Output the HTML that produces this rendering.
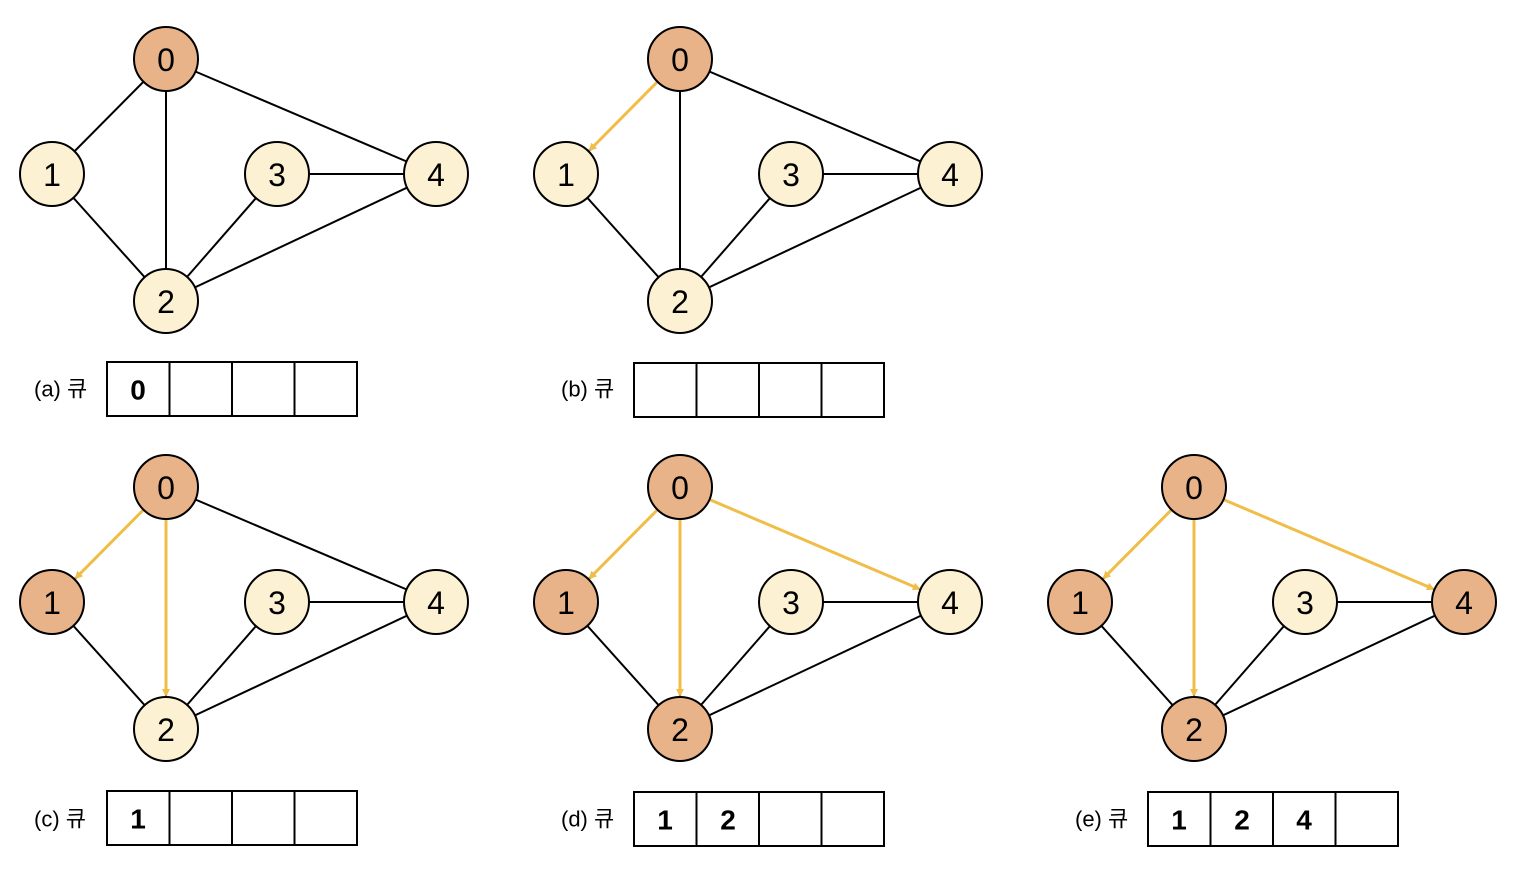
<!DOCTYPE html>
<html><head><meta charset="utf-8"><style>
html,body{margin:0;padding:0;background:#fff;}
svg{display:block;}
.n{font-family:"Liberation Sans","DejaVu Sans",sans-serif;font-size:32px;text-anchor:middle;dominant-baseline:central;fill:#000;}
.q{font-family:"Liberation Sans",sans-serif;font-size:28px;font-weight:bold;text-anchor:middle;dominant-baseline:central;}
.l{font-family:"Liberation Sans","Noto Sans CJK KR","NanumGothic",sans-serif;font-size:22px;dominant-baseline:central;}
</style></head><body>
<svg width="1534" height="880" viewBox="0 0 1534 880" xmlns="http://www.w3.org/2000/svg">
<defs>
<marker id="ah" markerWidth="8" markerHeight="8" refX="6" refY="4" orient="auto" markerUnits="userSpaceOnUse" viewBox="0 0 8 8"><path d="M0,0 L8,4 L0,8 z" fill="#F0BE48"/></marker>
<g id="edges" stroke="#000" stroke-width="2" fill="none">
<line x1="166" y1="59" x2="52" y2="174"/>
<line x1="166" y1="59" x2="166" y2="301"/>
<line x1="166" y1="59" x2="436" y2="174"/>
<line x1="52" y1="174" x2="166" y2="301"/>
<line x1="166" y1="301" x2="277" y2="174"/>
<line x1="166" y1="301" x2="436" y2="174"/>
<line x1="277" y1="174" x2="436" y2="174"/>
</g>
<line id="a01" x1="143.5" y1="81.7" x2="76" y2="149.8" stroke="#F0BE48" stroke-width="3" marker-end="url(#ah)"/>
<line id="a02" x1="166" y1="91" x2="166" y2="267" stroke="#F0BE48" stroke-width="3" marker-end="url(#ah)"/>
<line id="a04" x1="195.4" y1="71.5" x2="405" y2="160.8" stroke="#F0BE48" stroke-width="3" marker-end="url(#ah)"/>
</defs>

<!-- panel a -->
<g>
<use href="#edges"/>
<g stroke="#000" stroke-width="2">
<circle cx="166" cy="59" r="32" fill="#E9B38A"/><circle cx="52" cy="174" r="32" fill="#FCF1D3"/><circle cx="166" cy="301" r="32" fill="#FCF1D3"/><circle cx="277" cy="174" r="32" fill="#FCF1D3"/><circle cx="436" cy="174" r="32" fill="#FCF1D3"/>
</g>
<text class="n" x="166" y="60">0</text><text class="n" x="52" y="175">1</text><text class="n" x="166" y="302">2</text><text class="n" x="277" y="175">3</text><text class="n" x="436" y="175">4</text>
</g>

<!-- panel b -->
<g transform="translate(514,0)">
<use href="#edges"/><use href="#a01"/>
<g stroke="#000" stroke-width="2">
<circle cx="166" cy="59" r="32" fill="#E9B38A"/><circle cx="52" cy="174" r="32" fill="#FCF1D3"/><circle cx="166" cy="301" r="32" fill="#FCF1D3"/><circle cx="277" cy="174" r="32" fill="#FCF1D3"/><circle cx="436" cy="174" r="32" fill="#FCF1D3"/>
</g>
<text class="n" x="166" y="60">0</text><text class="n" x="52" y="175">1</text><text class="n" x="166" y="302">2</text><text class="n" x="277" y="175">3</text><text class="n" x="436" y="175">4</text>
</g>

<!-- panel c -->
<g transform="translate(0,428)">
<use href="#edges"/><use href="#a01"/><use href="#a02"/>
<g stroke="#000" stroke-width="2">
<circle cx="166" cy="59" r="32" fill="#E9B38A"/><circle cx="52" cy="174" r="32" fill="#E9B38A"/><circle cx="166" cy="301" r="32" fill="#FCF1D3"/><circle cx="277" cy="174" r="32" fill="#FCF1D3"/><circle cx="436" cy="174" r="32" fill="#FCF1D3"/>
</g>
<text class="n" x="166" y="60">0</text><text class="n" x="52" y="175">1</text><text class="n" x="166" y="302">2</text><text class="n" x="277" y="175">3</text><text class="n" x="436" y="175">4</text>
</g>

<!-- panel d -->
<g transform="translate(514,428)">
<use href="#edges"/><use href="#a01"/><use href="#a02"/><use href="#a04"/>
<g stroke="#000" stroke-width="2">
<circle cx="166" cy="59" r="32" fill="#E9B38A"/><circle cx="52" cy="174" r="32" fill="#E9B38A"/><circle cx="166" cy="301" r="32" fill="#E9B38A"/><circle cx="277" cy="174" r="32" fill="#FCF1D3"/><circle cx="436" cy="174" r="32" fill="#FCF1D3"/>
</g>
<text class="n" x="166" y="60">0</text><text class="n" x="52" y="175">1</text><text class="n" x="166" y="302">2</text><text class="n" x="277" y="175">3</text><text class="n" x="436" y="175">4</text>
</g>

<!-- panel e -->
<g transform="translate(1028,428)">
<use href="#edges"/><use href="#a01"/><use href="#a02"/><use href="#a04"/>
<g stroke="#000" stroke-width="2">
<circle cx="166" cy="59" r="32" fill="#E9B38A"/><circle cx="52" cy="174" r="32" fill="#E9B38A"/><circle cx="166" cy="301" r="32" fill="#E9B38A"/><circle cx="277" cy="174" r="32" fill="#FCF1D3"/><circle cx="436" cy="174" r="32" fill="#E9B38A"/>
</g>
<text class="n" x="166" y="60">0</text><text class="n" x="52" y="175">1</text><text class="n" x="166" y="302">2</text><text class="n" x="277" y="175">3</text><text class="n" x="436" y="175">4</text>
</g>

<!-- queues -->
<g fill="none" stroke="#000" stroke-width="2">
<rect x="107" y="362" width="250" height="54"/><line x1="169.5" y1="362" x2="169.5" y2="416"/><line x1="232" y1="362" x2="232" y2="416"/><line x1="294.5" y1="362" x2="294.5" y2="416"/>
<rect x="634" y="363" width="250" height="54"/><line x1="696.5" y1="363" x2="696.5" y2="417"/><line x1="759" y1="363" x2="759" y2="417"/><line x1="821.5" y1="363" x2="821.5" y2="417"/>
<rect x="107" y="791" width="250" height="54"/><line x1="169.5" y1="791" x2="169.5" y2="845"/><line x1="232" y1="791" x2="232" y2="845"/><line x1="294.5" y1="791" x2="294.5" y2="845"/>
<rect x="634" y="792" width="250" height="54"/><line x1="696.5" y1="792" x2="696.5" y2="846"/><line x1="759" y1="792" x2="759" y2="846"/><line x1="821.5" y1="792" x2="821.5" y2="846"/>
<rect x="1148" y="792" width="250" height="54"/><line x1="1210.5" y1="792" x2="1210.5" y2="846"/><line x1="1273" y1="792" x2="1273" y2="846"/><line x1="1335.5" y1="792" x2="1335.5" y2="846"/>
</g>
<text class="q" x="138" y="390">0</text>
<text class="q" x="138" y="819">1</text>
<text class="q" x="665" y="820">1</text><text class="q" x="728" y="820">2</text>
<text class="q" x="1179" y="820">1</text><text class="q" x="1242" y="820">2</text><text class="q" x="1304" y="820">4</text>
<text class="l" x="34" y="389">(a) 큐</text>
<text class="l" x="561" y="389">(b) 큐</text>
<text class="l" x="34" y="819">(c) 큐</text>
<text class="l" x="561" y="819">(d) 큐</text>
<text class="l" x="1075" y="819">(e) 큐</text>
</svg>
</body></html>
